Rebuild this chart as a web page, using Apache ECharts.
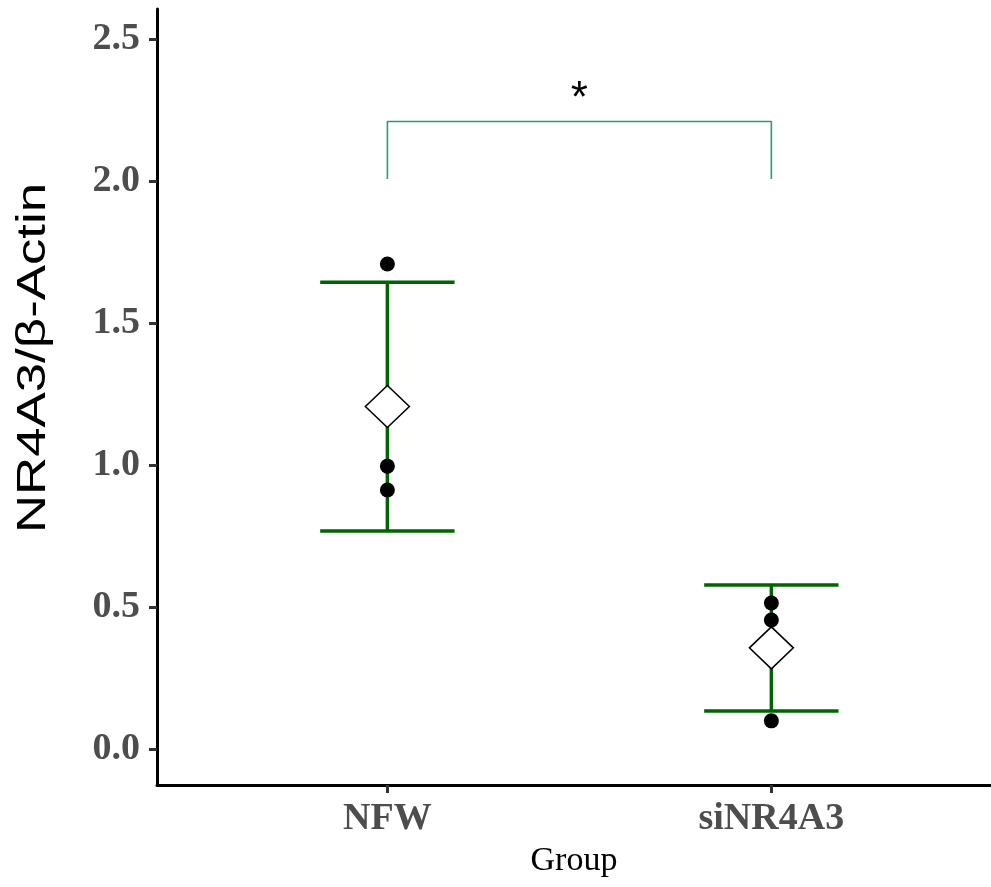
<!DOCTYPE html>
<html>
<head>
<meta charset="utf-8">
<script src="https://cdn.jsdelivr.net/npm/echarts@6/dist/echarts.min.js"></script>
<style>
  html, body { margin: 0; padding: 0; background: #fff; }
  #chart { width: 991px; height: 887px; }
</style>
</head>
<body>
<div id="chart"></div>
<script>
// Groups and their positions on the discrete x scale
const groups = ['NFW', 'siNR4A3'];
const groupPos = [1, 2];

// Individual replicate measurements
const nfwPoints = [1.708, 0.996, 0.912];
const siPoints = [0.514, 0.454, 0.099];

// Group mean and mean ± SD
const means = [1.206, 0.356];
const lowers = [0.768, 0.134];
const uppers = [1.644, 0.577];

// Y-axis ticks
const yTicks = [0.0, 0.5, 1.0, 1.5, 2.0, 2.5];

// Significance bracket between the two groups
const bracketTop = 2.21;
const bracketTip = 2.007;
const sigLabel = '*';
const sigLabelY = 2.285;

const chart = echarts.init(document.getElementById('chart'));

const pointData = [];
nfwPoints.forEach(v => pointData.push([groupPos[0], v]));
siPoints.forEach(v => pointData.push([groupPos[1], v]));

const errData = groupPos.map((x, i) => [x, lowers[i], uppers[i]]);
const meanData = groupPos.map((x, i) => [x, means[i]]);
const bracketData = [
  [groupPos[0], bracketTip], [groupPos[0], bracketTop],
  [groupPos[1], bracketTop], [groupPos[1], bracketTip]
];

const capHalf = 0.175;

chart.setOption({
  animation: false,
  backgroundColor: '#ffffff',
  grid: { left: 157, top: 9, right: 0, bottom: 102, containLabel: false },
  xAxis: {
    type: 'value',
    min: 0.4,
    max: 2.572,
    name: 'Group',
    nameLocation: 'middle',
    nameGap: 59,
    nameTextStyle: { fontFamily: 'Liberation Serif', fontSize: 34, color: '#000' },
    splitLine: { show: false },
    axisLine: { show: true, onZero: false, lineStyle: { color: '#000', width: 3 } },
    axisTick: { show: true, customValues: groupPos, length: 8, lineStyle: { color: '#333', width: 3 } },
    axisLabel: {
      customValues: groupPos,
      formatter: v => groups[Math.round(v) - 1] || '',
      fontFamily: 'Liberation Serif', fontWeight: 'bold', fontSize: 38,
      color: '#4d4d4d', margin: 15
    }
  },
  yAxis: {
    type: 'value',
    min: -0.127,
    max: 2.606,
    splitLine: { show: false },
    axisLine: { show: true, onZero: false, lineStyle: { color: '#000', width: 3 } },
    axisTick: { show: true, customValues: yTicks, length: 8, lineStyle: { color: '#333', width: 3 } },
    axisLabel: {
      customValues: yTicks,
      formatter: v => v.toFixed(1),
      fontFamily: 'Liberation Serif', fontWeight: 'bold', fontSize: 38,
      color: '#4d4d4d', margin: 17
    }
  },
  graphic: [{
    type: 'text',
    x: 34,
    y: 358,
    rotation: Math.PI / 2,
    scaleX: 1.32,
    style: {
      text: 'NR4A3/β-Actin',
      font: '40px "Liberation Sans"',
      fill: '#000',
      textAlign: 'center',
      textVerticalAlign: 'middle'
    }
  }],
  series: [
    {
      // mean ± SD error bars
      type: 'custom',
      z: 2,
      data: errData,
      renderItem: (params, api) => {
        const x = api.value(0), lo = api.value(1), hi = api.value(2);
        const pLo = api.coord([x, lo]);
        const pHi = api.coord([x, hi]);
        const cL = api.coord([x - capHalf, hi]);
        const cR = api.coord([x + capHalf, hi]);
        const style = { stroke: '#006400', lineWidth: 3.5, fill: null };
        return {
          type: 'group',
          children: [
            { type: 'line', shape: { x1: pLo[0], y1: pLo[1], x2: pHi[0], y2: pHi[1] }, style },
            { type: 'line', shape: { x1: cL[0], y1: pHi[1], x2: cR[0], y2: pHi[1] }, style },
            { type: 'line', shape: { x1: cL[0], y1: pLo[1], x2: cR[0], y2: pLo[1] }, style }
          ]
        };
      }
    },
    {
      // group means
      type: 'scatter',
      z: 3,
      data: meanData,
      symbol: 'diamond',
      symbolSize: [44, 42],
      itemStyle: { color: '#fff', borderColor: '#000', borderWidth: 1.5, opacity: 1 },
      emphasis: { disabled: true }
    },
    {
      // replicates
      type: 'scatter',
      z: 4,
      data: pointData,
      symbol: 'circle',
      symbolSize: 15,
      itemStyle: { color: '#000', opacity: 1 },
      emphasis: { disabled: true }
    },
    {
      // significance bracket
      type: 'line',
      z: 2,
      data: bracketData,
      symbol: 'none',
      lineStyle: { color: '#2a9a74', width: 1.6 },
      emphasis: { disabled: true }
    },
    {
      // significance label
      type: 'scatter',
      z: 5,
      data: [[(groupPos[0] + groupPos[1]) / 2, sigLabelY]],
      symbolSize: 0,
      itemStyle: { opacity: 1 },
      label: {
        show: true,
        position: 'inside',
        formatter: sigLabel,
        fontFamily: 'Liberation Sans',
        fontSize: 44,
        color: '#000'
      },
      emphasis: { disabled: true }
    }
  ]
});
</script>
</body>
</html>
